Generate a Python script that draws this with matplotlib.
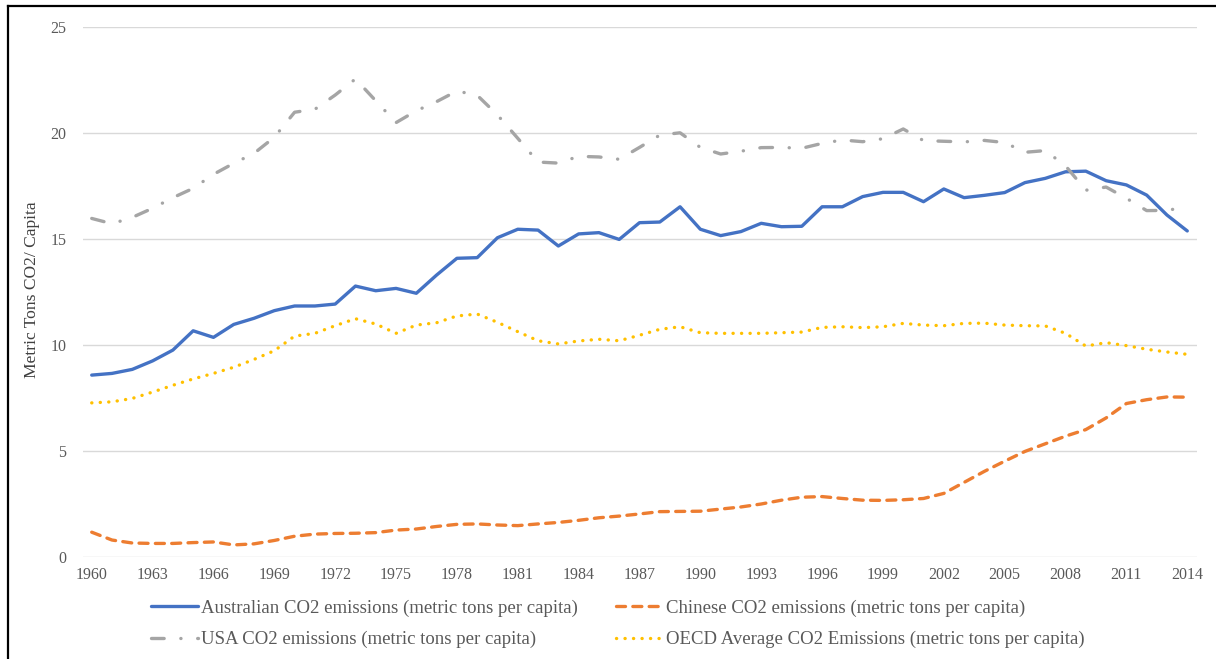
import numpy as np
import matplotlib
matplotlib.use("Agg")
import matplotlib.pyplot as plt
from matplotlib.lines import Line2D

years = list(range(1960, 2015))

aus = [8.58, 8.66, 8.85, 9.25, 9.76, 10.67, 10.36, 10.97, 11.26, 11.62,
       11.84, 11.84, 11.93, 12.78, 12.56, 12.67, 12.44, 13.3, 14.09, 14.12,
       15.06, 15.46, 15.42, 14.67, 15.24, 15.3, 14.98, 15.77, 15.8, 16.52,
       15.46, 15.16, 15.35, 15.74, 15.58, 15.6, 16.52, 16.52, 17.0, 17.2,
       17.2, 16.76, 17.36, 16.95, 17.06, 17.19, 17.66, 17.86, 18.17, 18.2,
       17.75, 17.55, 17.07, 16.13, 15.38]
china = [1.17, 0.8, 0.66, 0.64, 0.64, 0.68, 0.71, 0.57, 0.62, 0.78,
         0.98, 1.08, 1.11, 1.12, 1.15, 1.27, 1.32, 1.44, 1.54, 1.56,
         1.51, 1.48, 1.56, 1.63, 1.73, 1.85, 1.93, 2.03, 2.14, 2.15,
         2.16, 2.26, 2.36, 2.5, 2.68, 2.82, 2.85, 2.76, 2.68, 2.67,
         2.7, 2.76, 3.0, 3.52, 4.04, 4.52, 4.98, 5.34, 5.7, 6.01,
         6.56, 7.24, 7.42, 7.55, 7.54]
usa = [15.97, 15.72, 16.02, 16.45, 16.95, 17.39, 18.05, 18.57, 19.04, 19.8,
       20.98, 21.12, 21.79, 22.55, 21.52, 20.49, 21.05, 21.48, 21.98, 21.78,
       20.85, 19.75, 18.63, 18.58, 18.9, 18.87, 18.76, 19.32, 19.9, 20.01,
       19.32, 19.01, 19.14, 19.31, 19.32, 19.28, 19.51, 19.67, 19.59, 19.73,
       20.19, 19.64, 19.61, 19.58, 19.65, 19.55, 19.09, 19.17, 18.45, 17.3,
       17.45, 16.92, 16.34, 16.35, 16.52]
oecd = [7.27, 7.32, 7.48, 7.78, 8.1, 8.4, 8.66, 8.95, 9.32, 9.73,
        10.42, 10.55, 10.91, 11.24, 10.99, 10.55, 10.94, 11.05, 11.37, 11.46,
        11.07, 10.63, 10.2, 10.05, 10.19, 10.27, 10.2, 10.46, 10.74, 10.86,
        10.58, 10.55, 10.55, 10.55, 10.58, 10.61, 10.83, 10.86, 10.82, 10.86,
        11.02, 10.94, 10.91, 11.02, 11.03, 10.94, 10.91, 10.9, 10.55, 9.95,
        10.11, 9.97, 9.8, 9.67, 9.56]

labels = ["Australian CO2 emissions (metric tons per capita)",
          "Chinese CO2 emissions (metric tons per capita)",
          "USA CO2 emissions (metric tons per capita)",
          "OECD Average CO2 Emissions (metric tons per capita)"]

plt.rcParams['font.family'] = ['Liberation Serif', 'DejaVu Serif']
grey = '#595959'

fig = plt.figure(figsize=(12.16, 6.59), dpi=100)
ax = fig.add_axes([83/1216, 1-557/659, (1197-83)/1216, 530/659])

lw = 2.4
l_aus, = ax.plot(years, aus, color='#4472C4', lw=lw, solid_capstyle='round', solid_joinstyle='round')
l_chn, = ax.plot(years, china, color='#ED7D31', lw=lw, dash_capstyle='round',
                 dashes=(2.7, 2.2))
l_usa, = ax.plot(years, usa, color='#A5A5A5', lw=lw, dash_capstyle='round',
                 dashes=(3.8, 5, 0.05, 5))
l_oecd, = ax.plot(years, oecd, color='#FFC000', lw=lw, dash_capstyle='round',
                  dashes=(0.05, 2.5))

ax.set_xlim(1959.57, 2014.48)
ax.set_ylim(0, 25)
ax.set_yticks([0, 5, 10, 15, 20, 25])
ax.set_xticks(list(range(1960, 2015, 3)))
ax.grid(axis='y', color='#D9D9D9', lw=1.0)
ax.set_axisbelow(True)
for s in ax.spines.values():
    s.set_visible(False)
ax.tick_params(axis='both', length=0, colors=grey, labelsize=11.5)
ax.tick_params(axis='y', pad=12)
ax.tick_params(axis='x', pad=7)
ax.set_ylabel("Metric Tons CO2/ Capita", fontsize=12.6, color='#404040')
ax.yaxis.set_label_coords(-0.039, 0.504)

leg_kw = dict(frameon=False, fontsize=13.5, handlelength=2.5, handletextpad=0.15,
              labelspacing=0.75, borderpad=0, borderaxespad=0, loc='center left')
leg1 = fig.legend([l_aus, l_usa], [labels[0], labels[2]],
                  bbox_to_anchor=(151/1216, 1-624/659), **leg_kw)
leg2 = fig.legend([l_chn, l_oecd], [labels[1], labels[3]],
                  bbox_to_anchor=(616/1216, 1-624/659), **leg_kw)
for lg in (leg1, leg2):
    for t in lg.get_texts():
        t.set_color(grey)

# outer frame (left and top edge only visible)
fig.add_artist(Line2D([7.5/1216, 7.5/1216], [0, 1-5.5/659], transform=fig.transFigure, color='black', lw=1.6))
fig.add_artist(Line2D([7.5/1216, 1], [1-5.5/659, 1-5.5/659], transform=fig.transFigure, color='black', lw=1.6))

fig.savefig("out.png", dpi=100)
